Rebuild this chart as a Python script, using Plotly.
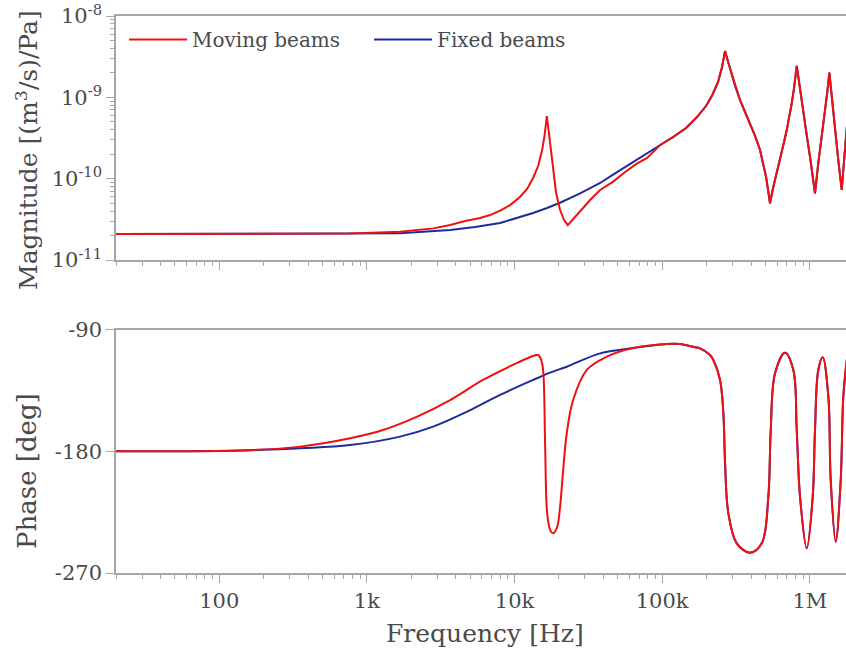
import plotly.graph_objects as go

# ---------------- data ----------------
# Magnitude, moving beams (low-frequency part, before it joins fixed beams)
mov_mag_f = [20, 300, 770, 1679, 2812, 3664, 4630, 5848, 6836, 7992, 9333, 10920,
             12170, 13360, 14450, 15390, 15990, 16560, 17150, 17690, 18250, 19130,
             20350, 21670, 22960, 24550, 26540, 29130, 32510, 38010, 46530, 56100,
             66500, 79070]
mov_mag_v = [2.09e-11, 2.09e-11, 2.12e-11, 2.23e-11, 2.45e-11, 2.69e-11, 3.01e-11,
             3.28e-11, 3.57e-11, 4.04e-11, 4.74e-11, 6.0e-11, 7.46e-11, 1.02e-10,
             1.43e-10, 2.25e-10, 3.44e-10, 5.89e-10, 3.44e-10, 1.95e-10, 1.17e-10,
             6.67e-11, 4.12e-11, 3.10e-11, 2.69e-11, 3.10e-11, 3.67e-11, 4.36e-11,
             5.47e-11, 7.26e-11, 9.2e-11, 1.21e-10, 1.51e-10, 1.80e-10]

# Magnitude, fixed beams (low-frequency part)
fix_mag_f = [20, 770, 1679, 3664, 5408, 7992, 10920, 13360, 16620, 20350, 27800,
             38010, 46530, 60640, 79070]
fix_mag_v = [2.09e-11, 2.09e-11, 2.13e-11, 2.34e-11, 2.55e-11, 2.85e-11, 3.38e-11,
             3.78e-11, 4.36e-11, 5.06e-11, 6.6e-11, 8.85e-11, 1.12e-10, 1.51e-10,
             2.07e-10]

# Magnitude, high-frequency part common to both
hi_mag_f = [96900, 118500, 145200, 172200, 198200, 218800, 239100, 254400, 266700,
            279400, 295900, 311700, 336800, 364000, 393700, 425600, 460000, 481800,
            505100, 521300, 537400, 563700, 596700, 628100, 669000, 697700, 723300,
            754400, 781600, 815300, 845300, 903600, 957000, 1003000, 1051000,
            1084000, 1137000, 1205000, 1268000, 1318000, 1356000, 1413000, 1482000,
            1564000, 1644000, 1705000, 1758000, 1811000]
hi_mag_v = [2.60e-10, 3.25e-10, 4.20e-10, 5.73e-10, 7.82e-10, 1.07e-9, 1.55e-9,
            2.36e-9, 3.72e-9, 2.72e-9, 1.97e-9, 1.38e-9, 9.27e-10, 6.61e-10,
            4.80e-10, 3.35e-10, 2.25e-10, 1.60e-10, 1.06e-10, 7.26e-11, 4.98e-11,
            7.67e-11, 1.16e-10, 1.69e-10, 2.82e-10, 3.96e-10, 5.57e-10, 8.45e-10,
            1.30e-9, 2.43e-9, 1.55e-9, 6.37e-10, 3.25e-10, 1.86e-10, 1.02e-10,
            6.6e-11, 1.47e-10, 3.28e-10, 6.98e-10, 1.23e-9, 2.01e-9, 9.27e-10,
            3.96e-10, 1.60e-10, 7.26e-11, 1.47e-10, 3.28e-10, 6.07e-10]

# Phase, moving beams (low-frequency part)
mov_ph_f = [20, 162, 353, 770, 1288, 2190, 3664, 6124, 10420, 13360, 14450,
            15140, 15630, 16120, 16620, 17420, 18250, 19430, 20350, 21440,
            22600, 24940, 30890, 42170]
mov_ph_v = [-179.8, -179.0, -176.4, -170.2, -164.1, -154.2, -141.9, -127.0,
            -114.4, -109.3, -108.5, -112.0, -120.0, -175.0, -225.0, -238.0,
            -240.6, -236.0, -220.9, -191.5, -166.3, -141.9, -119.6, -109.8]

# Phase, fixed beams (low-frequency part)
fix_ph_f = [20, 162, 770, 1679, 2812, 4775, 7992, 13360, 17420, 22600, 38010]
fix_ph_v = [-179.8, -179.0, -175.2, -169.0, -161.6, -150.5, -138.1, -127.0,
            -121.6, -117.2, -107.3]

# Phase, high-frequency part common to both
hi_ph_f = [63550, 107400, 132100, 161800, 180600, 210900, 222200, 246600,
           259700, 266700, 280700, 320000, 393700, 472500, 523600, 543600,
           581300, 679200, 773200, 815300, 858300, 952800, 1046000, 1084000,
           1141000, 1223000, 1335000, 1385000, 1497000, 1619000, 1686000,
           1780000]
hi_ph_v = [-103.4, -100.4, -100.4, -102.4, -103.6, -108.5, -112.2, -127.0,
           -151.7, -188.7, -225.8, -248.0, -255.0, -248.0, -213.5, -164.1,
           -122.1, -106.8, -119.6, -164.1, -213.5, -251.7, -213.5, -164.1,
           -119.6, -110.2, -139.4, -201.1, -246.8, -201.1, -139.4, -112.0]

x_tickvals = [100, 1000, 10000, 100000, 1000000]
x_ticktext = ["100", "1k", "10k", "100k", "1M"]
mag_tickvals = [1e-11, 1e-10, 1e-9, 1e-8]
mag_ticktext = ["10<sup>-11</sup>", "10<sup>-10</sup>", "10<sup>-9</sup>", "10<sup>-8</sup>"]
ph_tickvals = [-270, -180, -90]
ph_ticktext = ["-270", "-180", "-90"]

series_names = ["Moving beams", "Fixed beams"]

# ---------------- styling ----------------
RED = "#ee1111"
BLUE = "#1f2a9c"
FONT = "DejaVu Serif"
TXT = "#4a4a4a"
AX = "#a6a6a6"

fig = go.Figure()

# fixed beams first (drawn below)
fig.add_trace(go.Scatter(x=fix_mag_f + hi_mag_f, y=fix_mag_v + hi_mag_v,
                         mode="lines", line=dict(color=BLUE, width=2),
                         name=series_names[1], legend="legend2",
                         xaxis="x", yaxis="y"))
fig.add_trace(go.Scatter(x=fix_ph_f + hi_ph_f, y=fix_ph_v + hi_ph_v,
                         mode="lines", line=dict(color=BLUE, width=2, shape="spline", smoothing=1.0),
                         showlegend=False, xaxis="x2", yaxis="y2"))
fig.add_trace(go.Scatter(x=mov_mag_f + hi_mag_f, y=mov_mag_v + hi_mag_v,
                         mode="lines", line=dict(color=RED, width=2),
                         name=series_names[0], legend="legend",
                         xaxis="x", yaxis="y"))
fig.add_trace(go.Scatter(x=mov_ph_f + hi_ph_f, y=mov_ph_v + hi_ph_v,
                         mode="lines", line=dict(color=RED, width=2, shape="spline", smoothing=1.0),
                         showlegend=False, xaxis="x2", yaxis="y2"))

xrange = [1.30103, 6.245]
common_x = dict(type="log", range=xrange, showline=True, linecolor=AX, linewidth=1.5,
                mirror=True, ticks="outside", ticklen=8, tickcolor=AX, tickwidth=1.2,
                minor=dict(ticks="outside", ticklen=4, tickcolor=AX, dtick="D1", tickwidth=1),
                showgrid=False, zeroline=False, tickvals=x_tickvals, ticktext=x_ticktext,
                tickfont=dict(family=FONT, size=21, color=TXT), automargin=False)

legend_common = dict(orientation="h", y=0.993, xanchor="left", yanchor="top",
                     font=dict(family=FONT, size=20, color=TXT), bgcolor="rgba(0,0,0,0)",
                     itemwidth=58)

fig.update_layout(
    width=846, height=650,
    paper_bgcolor="white", plot_bgcolor="white",
    margin=dict(l=116, r=0, t=16, b=77),
    showlegend=True,
    legend=dict(legend_common, x=0.011),
    legend2=dict(legend_common, x=0.3466),
    xaxis=dict(common_x, anchor="y", domain=[0, 1], showticklabels=False),
    xaxis2=dict(common_x, anchor="y2", domain=[0, 1]),
    yaxis=dict(type="log", range=[-11, -8], domain=[0.5619, 1], anchor="x",
               showline=True, linecolor=AX, linewidth=1.5, ticks="outside", ticklen=8,
               tickcolor=AX, tickwidth=1.2, automargin=False,
               minor=dict(ticks="outside", ticklen=4, tickcolor=AX, dtick="D1", tickwidth=1),
               showgrid=False, zeroline=False, tickvals=mag_tickvals, ticktext=mag_ticktext,
               tickfont=dict(family=FONT, size=21, color=TXT)),
    yaxis2=dict(range=[-270, -90], domain=[0, 0.4363], anchor="x2",
                showline=True, linecolor=AX, linewidth=1.5, ticks="outside", ticklen=8,
                tickcolor=AX, tickwidth=1.2, showgrid=False, zeroline=False, automargin=False,
                tickvals=ph_tickvals, ticktext=ph_ticktext,
                tickfont=dict(family=FONT, size=21, color=TXT)),
    annotations=[
        dict(text="Magnitude [(m<sup>3</sup>/s)/Pa]", textangle=-90, xref="paper", yref="paper",
             x=-0.122, y=0.7594, xanchor="center", yanchor="middle", showarrow=False,
             font=dict(family=FONT, size=25, color=TXT)),
        dict(text="Phase [deg]", textangle=-90, xref="paper", yref="paper",
             x=-0.122, y=0.1831, xanchor="center", yanchor="middle", showarrow=False,
             font=dict(family=FONT, size=26, color=TXT)),
        dict(text="Frequency [Hz]", xref="paper", yref="paper",
             x=0.5055, y=-0.1095, xanchor="center", yanchor="middle", showarrow=False,
             font=dict(family=FONT, size=25, color=TXT)),
    ],
)

fig.write_html("out.html", config={"displayModeBar": False},
               post_script="document.body.style.margin='0px';")
